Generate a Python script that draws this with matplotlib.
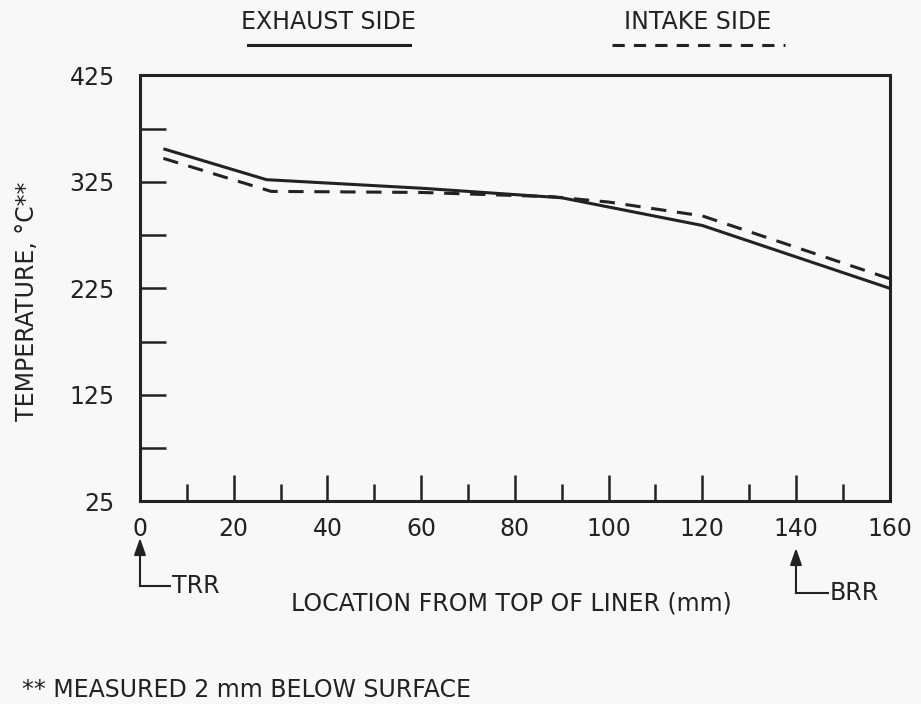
import matplotlib.pyplot as plt
import matplotlib.transforms as mtransforms
from matplotlib.lines import Line2D

# data
exhaust_x = [5, 27, 60, 90, 120, 160]
exhaust_t = [356, 327, 319, 310, 284, 225]
intake_x = [5, 28, 60, 88, 100, 120, 160]
intake_t = [347, 316, 315, 311, 306, 293, 234]

y_major = [25, 125, 225, 325, 425]
y_minor = [75, 175, 275, 375]
x_major = [0, 20, 40, 60, 80, 100, 120, 140, 160]
x_minor = [10, 30, 50, 70, 90, 110, 130, 150]
x_labels = ["0", "20", "40", "60", "80", "100", "120", "140", "160"]

ink = "#222222"
bg = "#f8f8f8"
fs = 17

fig = plt.figure(figsize=(9.21, 7.04), dpi=100, facecolor=bg)
ax = fig.add_axes([0.152, 0.288, 0.814, 0.605], facecolor=bg)

ax.plot(exhaust_x, exhaust_t, color=ink, lw=2.2, solid_capstyle="butt")
ax.plot(intake_x, intake_t, color=ink, lw=2.2, dashes=(5, 3.5))

ax.set_xlim(0, 160)
ax.set_ylim(25, 425)
for s in ax.spines.values():
    s.set_linewidth(2.2)
    s.set_color(ink)

ax.set_xticks(x_major)
ax.set_xticklabels(x_labels)
ax.set_xticks(x_minor, minor=True)
ax.set_yticks(y_major)
ax.set_yticks(y_minor, minor=True)
ax.tick_params(axis="x", which="major", direction="in", length=19, width=1.8,
               pad=11, labelsize=fs, colors=ink)
ax.tick_params(axis="x", which="minor", direction="in", length=12, width=1.8, colors=ink)
ax.tick_params(axis="y", which="both", direction="in", length=19, width=1.8,
               pad=18, labelsize=fs, colors=ink)

ax.set_ylabel("TEMPERATURE, °C**", fontsize=fs, color=ink)
ax.yaxis.set_label_coords(-0.135, 0.47)
fig.text(0.555, 1 - 603 / 704, "LOCATION FROM TOP OF LINER (mm)",
         ha="center", va="center", fontsize=fs, color=ink)
fig.text(0.024, 1 - 690 / 704, "** MEASURED 2 mm BELOW SURFACE",
         ha="left", va="center", fontsize=fs, color=ink)

# legend drawn as text plus sample lines above the plot
fig.text(328 / 921, 1 - 22 / 704, "EXHAUST SIDE", ha="center", va="center",
         fontsize=fs, color=ink)
fig.text(698 / 921, 1 - 22 / 704, "INTAKE SIDE", ha="center", va="center",
         fontsize=fs, color=ink)
fig.add_artist(Line2D([248 / 921, 410 / 921], [1 - 45 / 704] * 2, color=ink, lw=2.2,
                      transform=fig.transFigure))
fig.add_artist(Line2D([612 / 921, 785 / 921], [1 - 45 / 704] * 2, color=ink, lw=2.2,
                      dashes=(4, 3), transform=fig.transFigure))

# TRR / BRR markers
trans = mtransforms.blended_transform_factory(ax.transData, fig.transFigure)
for xm, tip, base, xend, lab in [(0, 538, 586, 6.5, "TRR"), (140, 548, 593, 146.8, "BRR")]:
    ax.annotate("", xy=(xm, 1 - tip / 704), xycoords=trans,
                xytext=(xm, 1 - base / 704), textcoords=trans,
                arrowprops=dict(arrowstyle="-|>,head_length=1.0,head_width=0.35",
                                color=ink, lw=1.5, shrinkA=0, shrinkB=0))
    ax.plot([xm, xend], [1 - base / 704] * 2, color=ink, lw=1.5,
            transform=trans, clip_on=False)
    ax.text(xend + 0.3, 1 - base / 704, lab, transform=trans, ha="left",
            va="center", fontsize=fs, color=ink)

fig.savefig("out.png", dpi=100, facecolor=bg)
